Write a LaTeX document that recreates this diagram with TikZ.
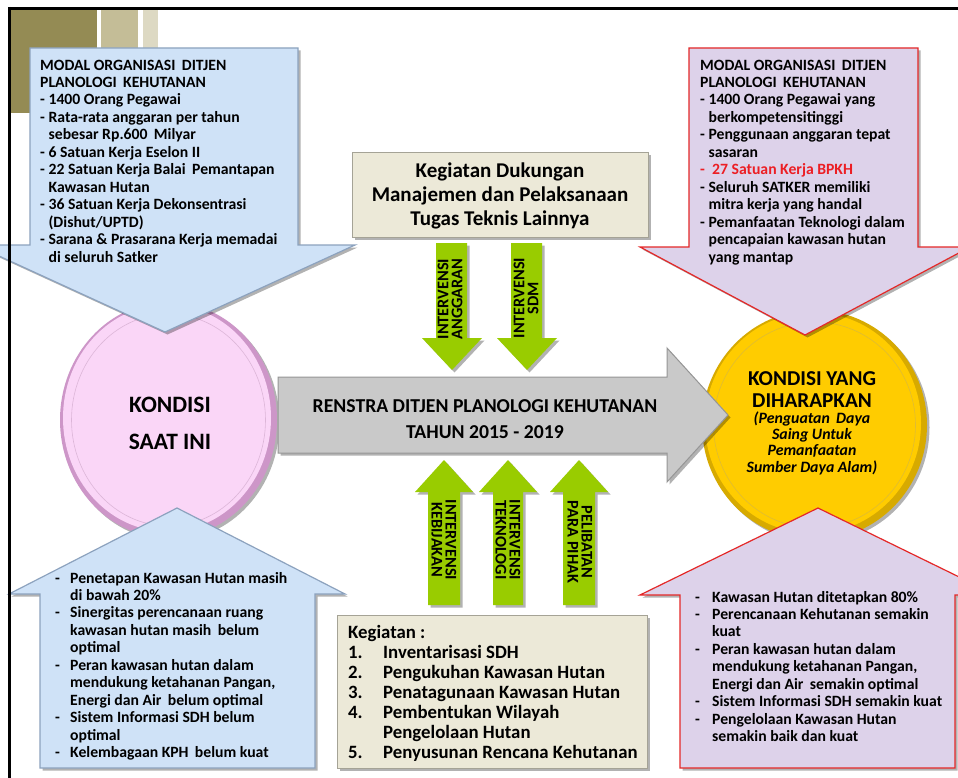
\documentclass[tikz,border=0pt]{standalone}
\usepackage{fontspec}
\setmainfont{Carlito}
\usetikzlibrary{shadows}
\definecolor{olive}{RGB}{148,139,84}
\definecolor{tan}{RGB}{196,189,151}
\definecolor{lighttan}{RGB}{221,217,195}
\definecolor{bluefill}{RGB}{207,226,247}
\definecolor{blueedge}{RGB}{140,162,190}
\definecolor{lavfill}{RGB}{221,210,234}
\definecolor{lavedge}{RGB}{228,40,40}
\definecolor{pinkfill}{RGB}{250,214,247}
\definecolor{pinkedge}{RGB}{205,150,200}
\definecolor{yelfill}{RGB}{255,204,0}
\definecolor{yeledge}{RGB}{215,170,0}
\definecolor{grayfill}{RGB}{201,201,201}
\definecolor{grayedge}{RGB}{150,150,150}
\definecolor{beigefill}{RGB}{236,233,216}
\definecolor{beigeedge}{RGB}{165,163,150}
\definecolor{greenfill}{RGB}{153,204,0}
\definecolor{redtxt}{RGB}{236,30,36}
\newcommand\hind{\hspace*{8.4pt}}
\newcommand\dsp{\ \hspace{0.18em}}
\begin{document}
\begin{tikzpicture}[x=1pt,y=-1pt,
  shd/.style={drop shadow={opacity=0.3,shadow xshift=2.5pt,shadow yshift=-2.5pt,fill=black}},
  bluearrow/.style={fill=bluefill,draw=blueedge,line width=1.2pt,line join=miter,shd},
  lavarrow/.style={fill=lavfill,draw=lavedge,line width=1.2pt,line join=miter,shd},
  beigebox/.style={fill=beigefill,draw=beigeedge,line width=1pt,shd},
  greenarrow/.style={fill=greenfill,shd},
  lst/.style={inner sep=0pt,align=left,font=\bfseries\fontsize{15.7}{17.45}\selectfont},
  gtxt/.style={inner sep=0pt,align=center,font=\bfseries\fontsize{16.3}{14}\selectfont}]
\useasboundingbox (0,0) rectangle (958,778);
\clip (0,0) rectangle (958,778);
\fill[white] (0,0) rectangle (958,778);
% decorative rectangles
\fill[olive] (10,10) rectangle (97,113);
\fill[tan] (101,10) rectangle (138,60);
\fill[lighttan] (143,10) rectangle (158,60);
% circles
\fill[pinkedge,shd] (168.5,420) ellipse [x radius=108.5,y radius=118];
\fill[pinkfill] (167,418) ellipse [x radius=104,y radius=113.5];
\draw[pinkedge!70,line width=0.6pt] (168.5,420) ellipse [x radius=97,y radius=106];
\fill[yeledge,shd] (814.5,425) ellipse [x radius=112.5,y radius=115];
\fill[yelfill] (813,423) ellipse [x radius=108,y radius=110.5];
\draw[yeledge!80,line width=0.6pt] (814.5,425) ellipse [x radius=101,y radius=103];
% central gray arrow
\path[fill=grayfill,draw=grayedge,line width=1pt,line join=miter,shd]
  (278,377) -- (667,377) -- (667,348) -- (728,415) -- (667,482) -- (667,453) -- (278,453) -- cycle;
% top arrows
\path[bluearrow] (30,48) -- (298,48) -- (298,245) -- (355,245) -- (165,332) -- (-25,245) -- (30,245) -- cycle;
\path[lavarrow] (689,48) -- (918,48) -- (918,247) -- (970,247) -- (805,335) -- (640,247) -- (689,247) -- cycle;
% bottom arrows
\path[bluearrow] (40,768) -- (315,768) -- (315,594) -- (345,594) -- (177,508) -- (9,594) -- (40,594) -- cycle;
\path[lavarrow] (680,768) -- (955,768) -- (955,595) -- (996,595) -- (818,508) -- (640,595) -- (680,595) -- cycle;
% beige boxes
\path[beigebox] (352,153) rectangle (648,237);
\path[beigebox] (337,615) rectangle (647,768);
% green arrows down
\path[greenarrow] (436,243) -- (467,243) -- (467,338) -- (482,338) -- (452,370) -- (422,338) -- (436,338) -- cycle;
\path[greenarrow] (511,243) -- (542,243) -- (542,338) -- (557,338) -- (527,370) -- (497,338) -- (511,338) -- cycle;
% green arrows up
\path[greenarrow] (428,605) -- (460,605) -- (460,492) -- (473,492) -- (444,460) -- (415,492) -- (428,492) -- cycle;
\path[greenarrow] (493,605) -- (523,605) -- (523,492) -- (537,492) -- (508,460) -- (479,492) -- (493,492) -- cycle;
\path[greenarrow] (563,605) -- (595,605) -- (595,492) -- (608,492) -- (579,460) -- (550,492) -- (563,492) -- cycle;
% frame
\draw[black,line width=3pt] (8,8.5) -- (958,8.5);
\draw[black,line width=3pt] (9.5,7) -- (9.5,778);
% texts
\node[lst,anchor=base west] (tltext) at (40,262) {MODAL ORGANISASI\dsp DITJEN\\PLANOLOGI\dsp KEHUTANAN\\- 1400 Orang Pegawai\\- Rata-rata anggaran per tahun\\\hind sebesar Rp.600\dsp Milyar\\- 6 Satuan Kerja Eselon II\\- 22 Satuan Kerja Balai\dsp Pemantapan\\\hind Kawasan Hutan\\- 36 Satuan Kerja Dekonsentrasi\\\hind (Dishut/UPTD)\\- Sarana \& Prasarana Kerja memadai\\\hind di seluruh Satker};
\node[lst,anchor=base west] (trtext) at (700,262) {MODAL ORGANISASI\dsp DITJEN\\PLANOLOGI\dsp KEHUTANAN\\- 1400 Orang Pegawai yang\\\hind berkompetensitinggi\\- Penggunaan anggaran tepat\\\hind sasaran\\\textcolor{redtxt}{-\ \ 27 Satuan Kerja BPKH}\\- Seluruh SATKER memiliki\\\hind mitra kerja yang handal\\- Pemanfaatan Teknologi dalam\\\hind pencapaian kawasan hutan\\\hind yang mantap};
\node[lst,anchor=base west] (bltext) at (55,757.5) {\makebox[15pt][l]{-}Penetapan Kawasan Hutan masih\\\hspace*{15pt}di bawah 20\%\\\makebox[15pt][l]{-}Sinergitas perencanaan ruang\\\hspace*{15pt}kawasan hutan masih\dsp belum\\\hspace*{15pt}optimal\\\makebox[15pt][l]{-}Peran kawasan hutan dalam\\\hspace*{15pt}mendukung ketahanan Pangan,\\\hspace*{15pt}Energi dan Air\dsp belum optimal\\\makebox[15pt][l]{-}Sistem Informasi SDH belum\\\hspace*{15pt}optimal\\\makebox[15pt][l]{-}Kelembagaan KPH\dsp belum kuat};
\node[lst,anchor=base west] (brtext) at (695,741.6) {\makebox[17pt][l]{-}Kawasan Hutan ditetapkan 80\%\\\makebox[17pt][l]{-}Perencanaan Kehutanan semakin\\\hspace*{17pt}kuat\\\makebox[17pt][l]{-}Peran kawasan hutan dalam\\\hspace*{17pt}mendukung ketahanan Pangan,\\\hspace*{17pt}Energi dan Air\dsp semakin optimal\\\makebox[17pt][l]{-}Sistem Informasi SDH semakin kuat\\\makebox[17pt][l]{-}Pengelolaan Kawasan Hutan\\\hspace*{17pt}semakin baik dan kuat};
\node[inner sep=0pt,align=center,anchor=base,font=\bfseries\fontsize{23.5}{37}\selectfont] (kondisi) at (170,449.5) {KONDISI\\SAAT INI};
\node[inner sep=0pt,align=center,anchor=base,font=\bfseries\fontsize{21.2}{22}\selectfont] (harap) at (812,407) {KONDISI YANG\\DIHARAPKAN};
\node[inner sep=0pt,align=center,anchor=base,font=\bfseries\itshape\fontsize{15.8}{16.3}\selectfont] (harapsub) at (812,472) {(Penguatan\dsp Daya\\Saing Untuk\\Pemanfaatan\\Sumber Daya Alam)};
\node[inner sep=0pt,align=center,anchor=base,font=\bfseries\fontsize{19.7}{26}\selectfont] (renstra) at (485,438.5) {RENSTRA DITJEN PLANOLOGI KEHUTANAN\\TAHUN 2015 - 2019};
\node[inner sep=0pt,align=center,font=\bfseries\fontsize{21}{24}\selectfont] (dukungan) at (500,196) {Kegiatan Dukungan\\Manajemen dan Pelaksanaan\\Tugas Teknis Lainnya};
\node[inner sep=0pt,align=left,anchor=base west,font=\bfseries\fontsize{18.8}{20}\selectfont] (kegiatan) at (348,758) {Kegiatan :\\\makebox[35pt][l]{1.}Inventarisasi SDH\\\makebox[35pt][l]{2.}Pengukuhan Kawasan Hutan\\\makebox[35pt][l]{3.}Penatagunaan Kawasan Hutan\\\makebox[35pt][l]{4.}Pembentukan Wilayah\\\hspace*{35pt}Pengelolaan Hutan\\\makebox[35pt][l]{5.}Penyusunan Rencana Kehutanan};
\node[gtxt,rotate=90] (g1) at (450,299) {INTERVENSI\\ANGGARAN};
\node[gtxt,rotate=90] (g2) at (526,298) {INTERVENSI\\SDM};
\node[gtxt,rotate=-90] (g3) at (444,540) {INTERVENSI\\KEBIJAKAN};
\node[gtxt,rotate=-90] (g4) at (508,540) {INTERVENSI\\TEKNOLOGI};
\node[gtxt,rotate=-90] (g5) at (580,542) {PELIBATAN\\PARA PIHAK};
\end{tikzpicture}
\end{document}
